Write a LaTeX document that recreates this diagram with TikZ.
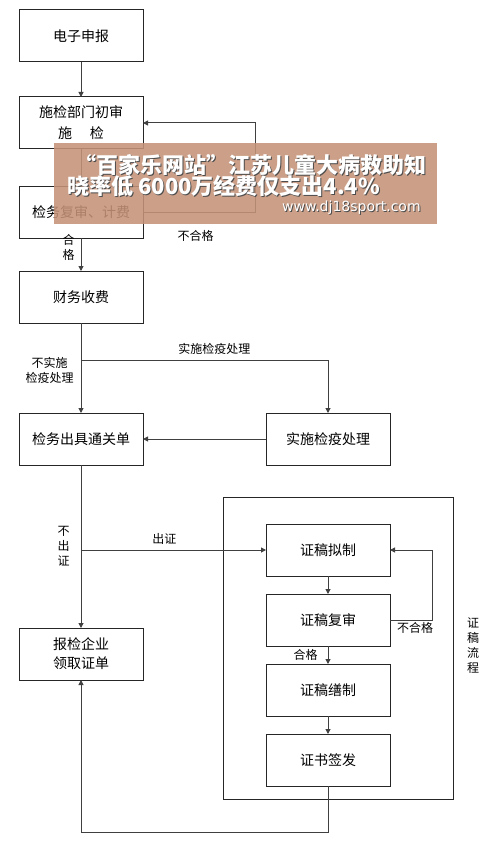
\documentclass[tikz,border=0pt]{standalone}
\usepackage{fontspec}
\setmainfont{Noto Sans CJK SC}
\newfontfamily\urlfont{DejaVu Sans}
\usetikzlibrary{arrows.meta, positioning, calc}

\definecolor{wmbrown}{RGB}{196,146,120}

\begin{document}
\begin{tikzpicture}[
  node distance = 35pt,
  every node/.style = {font=\fontsize{14}{21}\selectfont},
  box/.style = {
    draw=black!85, rectangle, line width=1pt, outer sep=0pt,
    minimum width=124pt, minimum height=52pt, align=center, inner sep=2pt
  },
  lbl/.style = {font=\fontsize{12}{15}\selectfont, align=center, inner sep=1pt},
  flow/.style = {-{Triangle[length=5pt, width=5pt]}, line width=1pt, draw=black!75},
  frame/.style = {draw=black!85, line width=1pt},
  wmtext/.style = {text=white, inner sep=0pt, anchor=west,
    font=\fontsize{22}{22}\selectfont\bfseries},
  wmshadow/.style = {wmtext, text=black!70}
]
\useasboundingbox (0,0) rectangle (489pt,-845pt);

% main column
\node[box] (declare) at (81pt,-36pt) {电子申报};
\node[box, below=35pt of declare] (firstcheck) {施检部门初审\\施\hspace{18pt}检};
\node[box, below=37pt of firstcheck] (recheck) {检务复审、计费};
\node[box, below=33pt of recheck] (payment) {财务收费};
\node[box, below=90pt of payment] (clearance) {检务出具通关单};
\node[box, right=123pt of clearance] (treat) {实施检疫处理};
\node[box, below=163pt of clearance, font=\fontsize{14}{19}\selectfont] (collect)
  {报检企业\\领取证单};

% certificate steps
\node[box, below=59pt of treat] (draft) {证稿拟制};
\node[box, below=18pt of draft] (review) {证稿复审};
\node[box, below=18pt of review] (fair) {证稿缮制};
\node[box, below=18pt of fair] (issue) {证书签发};

\coordinate (framenw) at ($(draft.north west)+(-43pt,27pt)$);
\coordinate (framese) at ($(issue.south east)+(63pt,-13pt)$);
\draw[frame] (framenw) rectangle (framese);
\node[lbl, font=\fontsize{12}{15}\selectfont] (flowname) at ($(review.east)+(83pt,-26pt)$)
  {证\\稿\\流\\程};

\draw[flow] (declare) -- (firstcheck);
\draw[flow] (firstcheck) -- (recheck);
\draw[flow] (recheck) -- node[lbl, left=5pt, pos=0.3] {合\\格} (payment);
\draw[flow] (recheck.east) -- node[lbl, pos=0.47, below=17pt] {不合格} ++(112pt,0)
  |- (firstcheck.east);

\draw[flow] (payment) -- node[lbl, left=6pt, pos=0.53] {不实施\\检疫处理} (clearance);
\coordinate[below=37pt of payment.south] (treatfork);
\draw[flow] (treatfork) -| node[lbl, pos=0.27, above=4pt] {实施检疫处理} (treat.north);
\draw[flow] (treat) -- (clearance);

\draw[flow] (clearance) -- node[lbl, left=10pt, midway] {不\\出\\证} (collect);
\coordinate[below=85pt of clearance.south] (issuefork);
\draw[flow] (issuefork) -- node[lbl, pos=0.45, above=4pt] {出证} (draft.west);

\draw[flow] (draft) -- (review);
\draw[flow] (review) -- node[lbl, left=9pt, midway] {合格} (fair);
\draw[flow] (fair) -- (issue);
\draw[flow] (review.east) -- node[lbl, below=1pt, pos=0.6] {不合格} ++(42pt,0)
  |- (draft.east);
\draw[flow] (issue.south) -- ++(0,-46pt) -| (collect.south);

% watermark banner
\fill[wmbrown, opacity=0.88] (54pt,-143pt) rectangle (437pt,-224pt);
\node[wmshadow] (wmshadowa) at (75pt,-166pt) {“百家乐网站”江苏儿童大病救助知};
\node[wmtext] (wmlinea) at (74pt,-165pt) {“百家乐网站”江苏儿童大病救助知};
\node[wmshadow] (wmshadowb) at (68pt,-187pt) {晓率低 6000万经费仅支出4.4\%};
\node[wmtext] (wmlineb) at (67pt,-186pt) {晓率低 6000万经费仅支出4.4\%};
\node[wmshadow, font=\urlfont\fontsize{14}{14}\selectfont] (wmshadowc) at (283pt,-209pt)
  {www.dj18sport.com};
\node[wmtext, font=\urlfont\fontsize{14}{14}\selectfont] (wmlinec) at (282pt,-208pt)
  {www.dj18sport.com};

\end{tikzpicture}
\end{document}
